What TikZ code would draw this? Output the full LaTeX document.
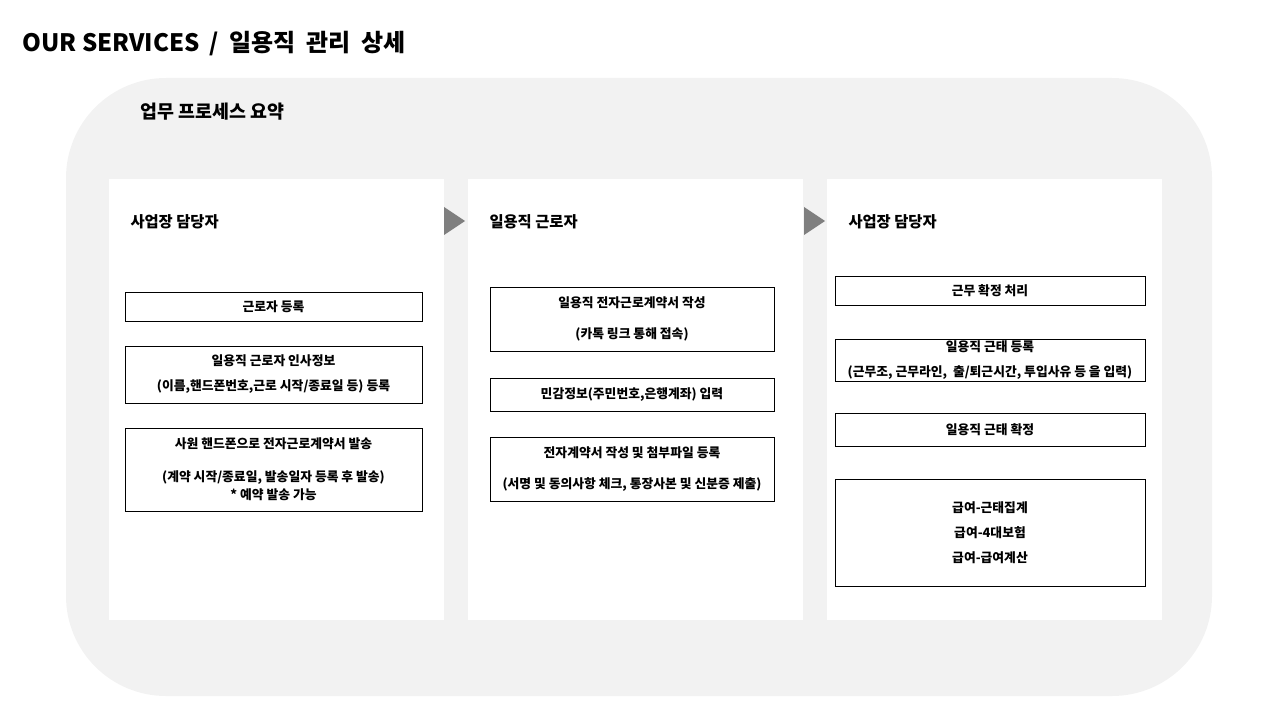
\documentclass[tikz,border=0pt]{standalone}
\usepackage{fontspec}
\setmainfont{Noto Sans CJK KR}
\usetikzlibrary{positioning}

\definecolor{bgGray}{HTML}{F2F2F2}
\definecolor{triGray}{HTML}{7F7F7F}

\tikzset{
    panel/.style={fill=white, draw=none, inner sep=0pt, anchor=north west,
                  minimum width=335*0.75pt, minimum height=440*0.75pt},
    header/.style={anchor=west, inner sep=0pt, font=\fontsize{11.5}{14}\selectfont\bfseries},
    stepbox/.style={draw=black, line width=0.75pt, fill=white, inner sep=0pt, align=center,
                    font=\fontsize{9.6}{18.75}\selectfont\bfseries},
    arrowtri/.style={fill=triGray, draw=none}}
\tikzset{every picture/.style={line width=0.75pt}}

\begin{document}
\begin{tikzpicture}[x=0.75pt,y=0.75pt,yscale=-1,xscale=1]
            \useasboundingbox (0,0) rectangle (1280,720);

            %Title
            \node [anchor=base west, inner sep=0pt, font=\fontsize{18}{20}\selectfont\bfseries] (title) at (22,52) {OUR SERVICES\hspace{0.4em}/\hspace{0.45em}일용직\hspace{0.45em}관리\hspace{0.45em}상세};

            %Background
            \fill [bgGray, rounded corners=75pt] (66,78) rectangle (1212,696);
            \node [anchor=base west, inner sep=0pt, font=\fontsize{13.8}{16}\selectfont\bfseries] (summary) at (140,119) {업무 프로세스 요약};

            %Columns
            \node [panel] (colA) at (108,179) {};
            \node [panel] (colB) at (467,179) {};
            \node [panel] (colC) at (826,179) {};

            %Headers
            \node [header] (hdA) at (130,222) {사업장 담당자};
            \node [header] (hdB) at (489,222) {일용직 근로자};
            \node [header] (hdC) at (848,222) {사업장 담당자};

            %Arrows
            \fill [arrowtri] (444,207) -- (465,221) -- (444,235) -- cycle;
            \fill [arrowtri] (804,207) -- (825,221) -- (804,235) -- cycle;

            %Column A
            \node [stepbox, minimum width=297*0.75pt, minimum height=29*0.75pt] (a1) at (273.5,306.5) {근로자 등록};
            \node [stepbox, minimum width=297*0.75pt, minimum height=57*0.75pt] (a2) at (273.5,374.5) {일용직 근로자 인사정보\\(이름,핸드폰번호,근로 시작/종료일 등) 등록};
            \node [stepbox, minimum width=297*0.75pt, minimum height=83*0.75pt] (a3) at (273.5,469.5) {사원 핸드폰으로 전자근로계약서 발송\\[6pt](계약 시작/종료일, 발송일자 등록 후 발송)\\[-5pt]* 예약 발송 가능};

            %Column B
            \node [stepbox, minimum width=284*0.75pt, minimum height=64*0.75pt] (b1) at (632,319) {일용직 전자근로계약서 작성\\[5pt](카톡 링크 통해 접속)};
            \node [stepbox, minimum width=284*0.75pt, minimum height=33*0.75pt] (b2) at (632,394.5) {민감정보(주민번호,은행계좌) 입력};
            \node [stepbox, minimum width=284*0.75pt, minimum height=64*0.75pt] (b3) at (632,469) {전자계약서 작성 및 첨부파일 등록\\[5pt](서명 및 동의사항 체크, 통장사본 및 신분증 제출)};

            %Column C
            \node [stepbox, minimum width=310*0.75pt, minimum height=29*0.75pt] (c1) at (990,290.5) {근무 확정 처리};
            \node [stepbox, minimum width=310*0.75pt, minimum height=42*0.75pt] (c2) at (990,360) {일용직 근태 등록\\(근무조, 근무라인,~ 출/퇴근시간, 투입사유 등 을 입력)};
            \node [stepbox, minimum width=310*0.75pt, minimum height=33*0.75pt] (c3) at (990,429.5) {일용직 근태 확정};
            \node [stepbox, minimum width=310*0.75pt, minimum height=107*0.75pt] (c4) at (990,532.5) {급여-근태집계\\급여-4대보험\\급여-급여계산};
\end{tikzpicture}
\end{document}
